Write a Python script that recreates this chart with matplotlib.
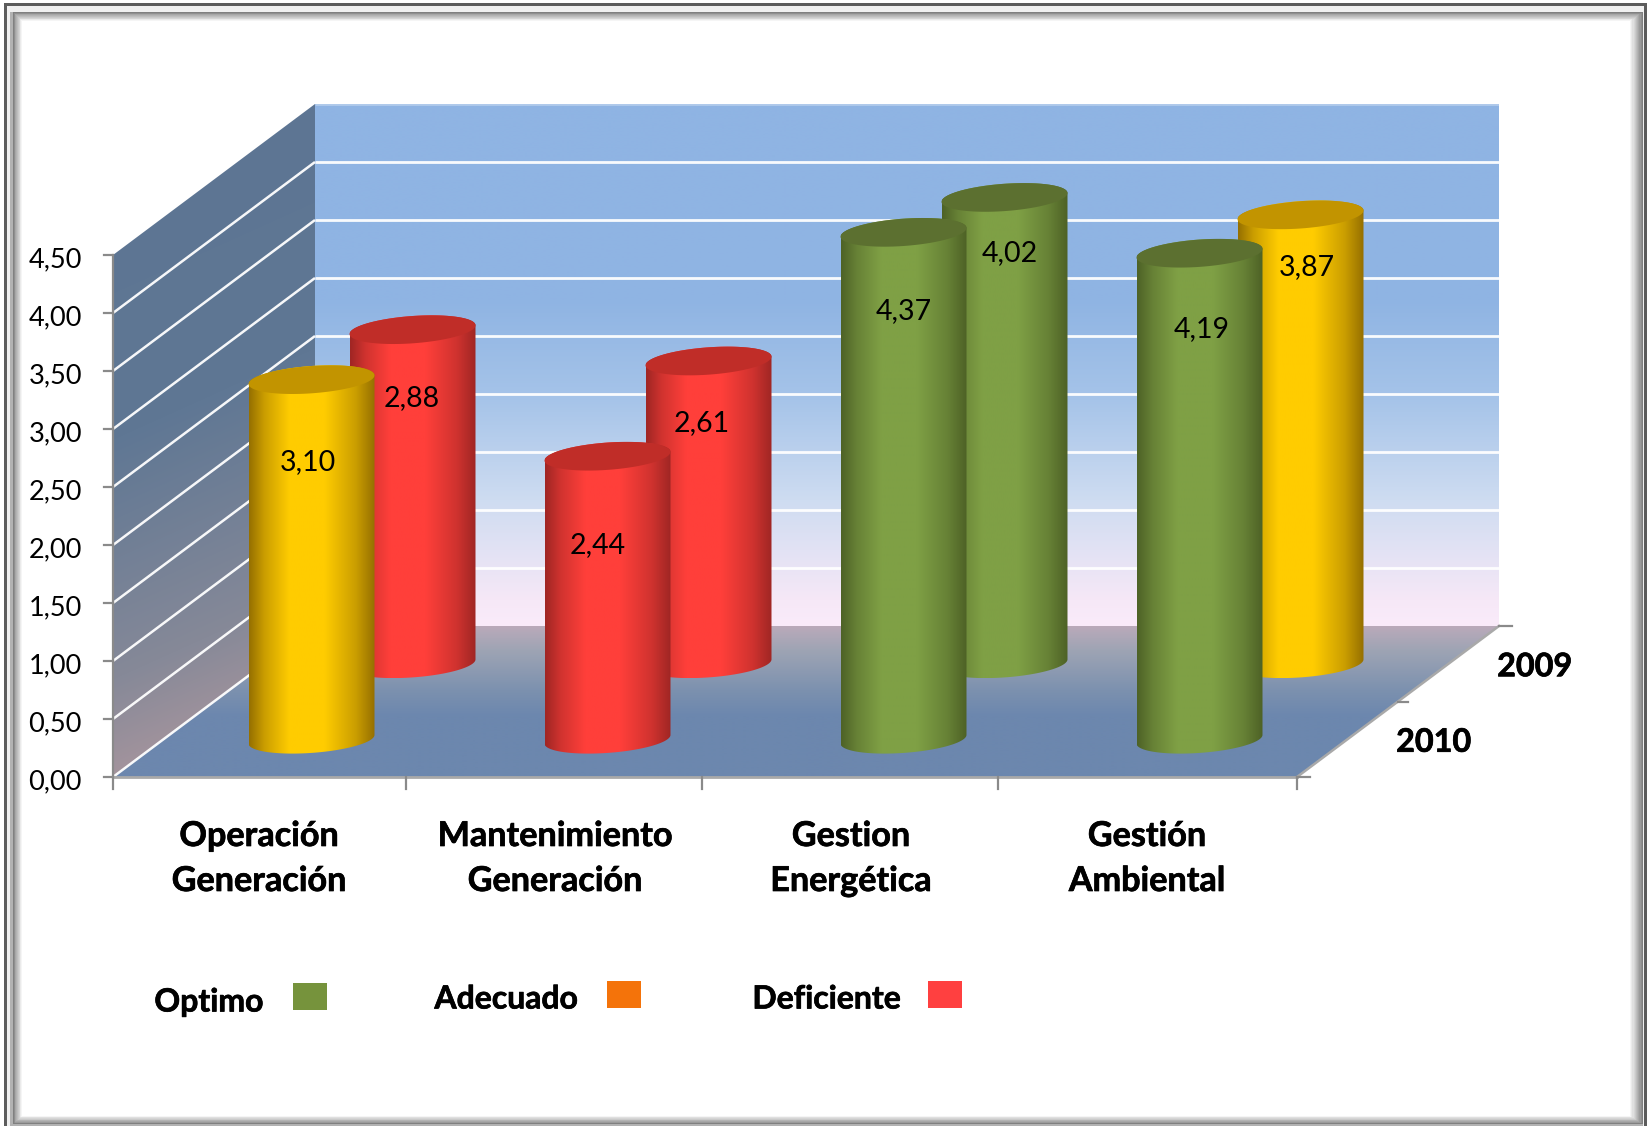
import numpy as np
import matplotlib
matplotlib.use("Agg")
import matplotlib.pyplot as plt
import matplotlib.patheffects as pe
from matplotlib.patches import Polygon, Rectangle

categories = ["Operación\nGeneración", "Mantenimiento\nGeneración",
              "Gestion\nEnergética", "Gestión\nAmbiental"]
series_names = ["2010", "2009"]
values_2010 = [3.10, 2.44, 4.37, 4.19]
values_2009 = [2.88, 2.61, 4.02, 3.87]
status_2010 = ["adecuado", "deficiente", "optimo", "optimo"]
status_2009 = ["deficiente", "deficiente", "optimo", "adecuado"]
value_ticks = [0.0, 0.5, 1.0, 1.5, 2.0, 2.5, 3.0, 3.5, 4.0, 4.5]
legend_names = ["Optimo", "Adecuado", "Deficiente"]

# Where each value label sits on its cylinder (height on the value axis, sideways shift in px)
label_height_2010 = [2.413, 1.698, 3.711, 3.556]
label_height_2009 = [2.313, 2.095, 3.565, 3.439]
label_shift_2010 = [-4, -10, 0, 2]
label_shift_2009 = [-1, -7, 5, 6]

W, H = 1649, 1126
X0, Y0 = 113.0, 777.0           # pixel position of the front-left floor corner
PX_CAT, PX_VAL = 296.0, 116.0   # pixels per category and per value unit
DEPTH_DX, DEPTH_DY = 101.0, 75.5  # oblique shift in pixels per depth unit
N_CAT, N_DEPTH, TOP = 4, 2, 4.5

plt.rcParams["font.family"] = ["Lato", "DejaVu Sans"]
fig = plt.figure(figsize=(W / 100, H / 100), dpi=100, facecolor="white")

# Pixel-addressed layer for the frame and the legend
chrome = fig.add_axes([0, 0, 1, 1], zorder=0)
chrome.set_xlim(0, W)
chrome.set_ylim(H, 0)
chrome.axis("off")

# Chart layer: x is the category axis and y the value axis of the front plane
ax = fig.add_axes([0, 0, 1, 1], zorder=1)
ax.patch.set_alpha(0)
ax.set_xlim(-X0 / PX_CAT, (W - X0) / PX_CAT)
ax.set_ylim((Y0 - H) / PX_VAL, Y0 / PX_VAL)
ax.axis("off")
ax.autoscale(False)

# Slight stroke that thickens the bold captions
heavy = [pe.withStroke(linewidth=0.5, foreground="black")]


def project(cat, depth, value):
    """Oblique projection of (category, depth, value) onto the axes' data plane."""
    return (np.asarray(cat) + np.asarray(depth) * DEPTH_DX / PX_CAT,
            np.asarray(value) + np.asarray(depth) * DEPTH_DY / PX_VAL)


def data_y(py):
    return (Y0 - py) / PX_VAL


def gray(v):
    return (v / 255, v / 255, v / 255)


# Bevelled picture frame, layered from the outside in
layers = [(4, 3, 1647, 1130, 92), (7, 6, 1644, 1130, 240), (10, 12, 1643, 1130, 178)]
for (l, t, r, b, g) in layers:
    chrome.add_patch(Rectangle((l, t), r - l, b - t, fc=gray(g), ec="none"))
steps = 12
for i in range(steps):
    f = i / (steps - 1)
    chrome.add_patch(Rectangle(
        (13 + 9 * f, 12 + 9 * f), (1643 - 13 * f) - (13 + 9 * f), (1124 - 8 * f) - (12 + 9 * f),
        fc=gray(128 + 127 * f ** 0.9), ec="none"))


def gradient_fill(verts, rgb_func, zorder):
    """Paint a polygon with colours computed per pixel from its pixel coordinates."""
    xs = np.array([v[0] for v in verts])
    ys = np.array([v[1] for v in verts])
    x0, x1, y0, y1 = xs.min(), xs.max(), ys.min(), ys.max()
    nx = int((x1 - x0) * PX_CAT) + 2
    ny = int((y1 - y0) * PX_VAL) + 2
    px = X0 + np.linspace(x0, x1, nx) * PX_CAT
    py = Y0 - np.linspace(y1, y0, ny) * PX_VAL
    gx, gy = np.meshgrid(px, py)
    im = ax.imshow(rgb_func(gx, gy), extent=(x0, x1, y0, y1), origin="upper",
                   aspect="auto", interpolation="bilinear", zorder=zorder)
    im.set_clip_path(Polygon(verts, closed=True, transform=ax.transData))


def ramp(pos, colors):
    def f(t):
        return np.stack([np.interp(t, pos, [c[k] / 255 for c in colors]) for k in range(3)], axis=-1)
    return f


back_ramp = ramp([0, 300, 400, 500, 600, 626],
                 [(143, 180, 227), (143, 180, 227), (166, 196, 233), (206, 220, 241),
                  (246, 232, 247), (250, 235, 250)])
side_ramp = ramp([0, 440, 680, 800],
                 [(92, 116, 147), (95, 119, 148), (134, 137, 152), (170, 150, 158)])
floor_ramp = ramp([626, 650, 690, 716, 777],
                  [(186, 170, 186), (158, 164, 180), (124, 145, 175), (108, 135, 174), (108, 135, 174)])

# Walls and floor
back_poly = [project(c, N_DEPTH, v) for c, v in [(0, 0), (N_CAT, 0), (N_CAT, TOP), (0, TOP)]]
side_poly = [project(0, d, v) for d, v in [(0, 0), (N_DEPTH, 0), (N_DEPTH, TOP), (0, TOP)]]
floor_poly = [project(c, d, 0) for c, d in [(0, 0), (N_CAT, 0), (N_CAT, N_DEPTH), (0, N_DEPTH)]]
gradient_fill(back_poly, lambda x, y: back_ramp(y), 1)
gradient_fill(side_poly, lambda x, y: side_ramp(y + 0.45 * (x - X0)), 1)
gradient_fill(floor_poly, lambda x, y: floor_ramp(y), 1)

# Gridlines across both walls
for level in value_ticks:
    if level > 0:
        xb, yb = project([0, N_CAT], [N_DEPTH, N_DEPTH], [level, level])
        ax.plot(xb, yb, color="white", lw=2.0, solid_capstyle="butt", zorder=2, alpha=0.95 if level < TOP else 0.3)
    if level < TOP:
        xs, ys = project([0, 0], [0, N_DEPTH], [level, level])
        ax.plot(xs, ys, color="white", lw=1.8, solid_capstyle="butt", zorder=2, alpha=0.95)

# Axis lines and tick marks
axis_color = "#8a8a8a"
tick_len = 12 / PX_VAL
ax.plot([0, 0], [0, TOP], color=axis_color, lw=1.6, zorder=3)
ax.plot([0, N_CAT], [0, 0], color="#a9a9a9", lw=2.0, zorder=3)
xe, ye = project([N_CAT, N_CAT], [0, N_DEPTH], [0, 0])
ax.plot(xe, ye, color="#a9a9a9", lw=1.8, zorder=3)
for level, text in zip(value_ticks, [f"{v:.2f}".replace(".", ",") for v in value_ticks]):
    ax.plot([-9 / PX_CAT, 0], [level, level], color=axis_color, lw=1.6, zorder=3)
    ax.text(-31 / PX_CAT, level - 2 / PX_VAL, text, ha="right", va="center_baseline",
            fontsize=19.5, color="black", zorder=6)
for c in range(N_CAT + 1):
    nudge = -3 / PX_CAT if 0 < c < N_CAT else 0
    ax.plot([c + nudge, c + nudge], [0, -tick_len], color=axis_color, lw=1.6, zorder=3)
for d in range(N_DEPTH + 1):
    xd, yd = project(N_CAT, d, 0)
    reach = (10 if d == 1 else 13) / PX_CAT
    ax.plot([xd, xd + reach], [yd, yd], color=axis_color, lw=1.6, zorder=3)

# Category and series captions
for i, name in enumerate(categories):
    for j, line in enumerate(name.split("\n")):
        ax.text(i + 0.5 - 2 / PX_CAT, data_y(836 + 45 * j), line, ha="center", va="center",
                fontsize=24.6, fontweight="bold", color="black", zorder=6, path_effects=heavy)
for k, name in enumerate(series_names):
    xd, yd = project(N_CAT, k + 0.5, 0)
    ax.text(xd + 86 / PX_CAT, yd - 3 / PX_VAL, name, ha="center", va="center",
            fontsize=23.3, fontweight="bold", color="black", zorder=6, path_effects=heavy)

# Cylinder colours per status: body, edge, lid
status_colors = {
    "optimo": ((127, 160, 69), (78, 98, 38), (92, 112, 48)),
    "adecuado": ((255, 204, 0), (150, 112, 0), (194, 148, 0)),
    "deficiente": ((255, 63, 58), (160, 38, 36), (192, 45, 40)),
}
RAD_CAT = 60 / PX_CAT
RAD_DEPTH = 0.19


def cylinder(cat, depth, value, status, zorder):
    body, edge, lid = status_colors[status]
    tilt = np.arctan2(RAD_DEPTH * DEPTH_DX, RAD_CAT * PX_CAT)
    front = np.linspace(tilt + np.pi, tilt + 2 * np.pi, 80)
    back = np.linspace(tilt, tilt + np.pi, 80)
    fx, fy = project(cat + RAD_CAT * np.cos(front), depth + RAD_DEPTH * np.sin(front), 0.0)
    bx, by = project(cat + RAD_CAT * np.cos(back), depth + RAD_DEPTH * np.sin(back), value)
    outline = list(zip(fx, fy)) + list(zip(bx, by))
    left, right = min(fx.min(), bx.min()), max(fx.max(), bx.max())
    mid = tuple(0.5 * e + 0.5 * b for e, b in zip(edge, body))
    shade = ramp([0, 0.12, 0.32, 0.60, 0.85, 1.0], [edge, mid, body, body, mid, edge])
    px_left, px_right = X0 + left * PX_CAT, X0 + right * PX_CAT
    gradient_fill(outline, lambda x, y: shade((x - px_left) / (px_right - px_left)), zorder)
    t = np.linspace(0, 2 * np.pi, 160)
    tx, ty = project(cat + RAD_CAT * np.cos(t), depth + RAD_DEPTH * np.sin(t), value)
    ax.fill(tx, ty, color=tuple(c / 255 for c in lid), lw=0, zorder=zorder + 0.1)


# Painter's order: back row first
for depth, vals, stats in [(1.5, values_2009, status_2009), (0.5, values_2010, status_2010)]:
    for i, (v, s) in enumerate(zip(vals, stats)):
        cylinder(i + 0.5, depth, v, s, 4 + (1.5 - depth))

for depth, vals, heights, shifts in [(1.5, values_2009, label_height_2009, label_shift_2009),
                                      (0.5, values_2010, label_height_2010, label_shift_2010)]:
    for i, (v, h, sh) in enumerate(zip(vals, heights, shifts)):
        lx, ly = project(i + 0.5 + sh / PX_CAT, depth, h)
        ax.text(lx, ly, f"{v:.2f}".replace(".", ","), ha="center", va="center_baseline",
                fontsize=20.5, color="black", zorder=7)

# Legend, drawn as a free-standing key under the plot
legend_text_x = [209, 506.5, 826.5]
legend_text_y = [1002, 999, 999]
legend_box = [(293, 983), (607, 981), (928, 981)]
legend_colors = ["#76933C", "#F4730A", "#FF4040"]
for name, tx, ty, (bx, by), col in zip(legend_names, legend_text_x, legend_text_y, legend_box, legend_colors):
    chrome.text(tx, ty, name, ha="center", va="center", fontsize=23, fontweight="bold",
                color="black", path_effects=heavy)
    chrome.add_patch(Rectangle((bx, by), 34, 27, fc=col, ec="none"))

fig.savefig("out.png", dpi=100)
